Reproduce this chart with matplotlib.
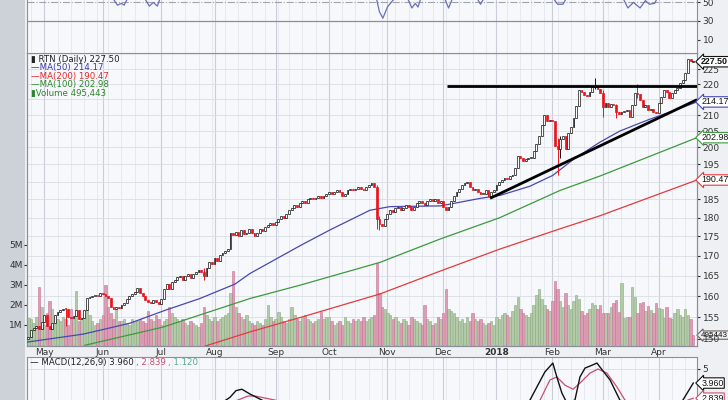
import numpy as np
import pandas as pd
import matplotlib
matplotlib.use("Agg")
from matplotlib import pyplot as plt
from matplotlib.patches import Rectangle

# trading days shown on the chart
holidays = ["2017-05-29", "2017-07-04", "2017-09-04", "2017-11-23", "2017-12-25",
            "2018-01-01", "2018-01-15", "2018-02-19", "2018-03-30"]
days = pd.bdate_range("2017-04-21", "2018-04-19")
days = days[~days.isin(pd.to_datetime(holidays))]

first_open = 150.0
closes = [
    # Apr / May
    150.5, 152.0, 152.6, 153.0, 152.3, 153.8, 155.4, 153.0, 152.2, 153.6,
    155.5, 156.2, 156.6, 157.0, 156.8, 155.0, 154.8, 155.2, 156.7, 154.5,
    154.9, 156.6, 159.5, 159.7, 160.0, 160.1, 159.9, 160.7,
    # Jun
    160.4, 160.0, 159.5, 157.3, 157.0, 157.5, 157.2, 157.8, 158.3, 159.2,
    159.9, 160.4, 161.0, 162.0, 160.7, 160.0, 159.1, 158.6, 158.4, 159.0,
    158.5, 158.0,
    # Jul
    159.2, 161.6, 163.0, 161.8, 163.5, 164.0, 164.6, 164.8, 164.0, 165.0,
    165.3, 164.4, 165.5, 166.0, 166.5, 165.8, 165.0, 167.0, 168.5, 168.0,
    # Aug
    169.4, 168.7, 170.2, 170.7, 171.2, 171.7, 176.0, 175.3, 176.2, 175.0,
    176.8, 175.5, 176.0, 177.0, 176.0, 175.0, 176.0, 177.0, 176.5, 177.5,
    178.0, 178.5, 178.0,
    # Sep
    178.8, 179.5, 180.5, 180.0, 181.0, 182.0, 182.5, 183.5, 183.0, 184.0,
    184.5, 184.0, 185.0, 185.5, 185.0, 185.5, 186.0, 185.5, 186.0, 186.5,
    # Oct
    187.0, 186.5, 187.0, 187.5, 187.0, 186.0, 186.5, 187.5, 188.0, 187.5,
    188.0, 188.5, 188.0, 187.5, 188.5, 189.0, 189.5, 188.5, 179.5, 178.2,
    177.8, 179.5,
    # Nov
    181.0, 182.0, 181.5, 182.5, 183.0, 182.0, 182.5, 183.5, 183.0, 182.0,
    183.0, 184.0, 184.5, 184.0, 183.5, 184.5, 185.0, 184.5, 185.0, 184.0,
    184.5,
    # Dec
    183.0, 182.0, 183.0, 184.5, 186.0, 187.0, 188.0, 189.0, 189.5, 190.0,
    188.5, 187.5, 188.0, 187.0, 186.5, 186.5, 187.5, 186.0, 187.0, 187.5,
    # Jan
    189.0, 190.0, 190.5, 191.0, 190.8, 191.5, 192.0, 194.0, 197.5, 196.9,
    196.0, 196.5, 197.0, 197.0, 199.0, 201.0, 203.5, 207.0, 210.0, 208.0,
    208.5,
    # Feb
    208.0, 200.5, 199.5, 202.5, 203.5, 199.5, 204.5, 206.2, 209.0, 213.0,
    218.0, 217.5, 216.5, 216.0, 217.5, 219.0, 219.5, 218.3, 217.2,
    # Mar
    212.5, 213.8, 212.5, 213.6, 213.2, 210.9, 210.4, 210.8, 211.2, 211.6,
    209.4, 213.2, 217.0, 216.8, 214.8, 212.6, 213.2, 211.5, 212.0, 211.0,
    210.6,
    # Apr
    213.8, 215.7, 218.0, 217.4, 215.4, 217.0, 218.0, 218.7, 220.3, 221.3,
    223.6, 228.4, 227.6, 227.5,
]
# long wicks that stand out (index: low, high)
wicks = {14: (153.0, 157.2), 66: (163.8, 166.8), 131: (177.0, 189.0), 132: (176.8, 180.5),
         199: (191.8, 203.0), 200: (197.0, 203.5), 213: (218.5, 222.0), 216: (209.5, 218.0),
         221: (209.0, 213.5), 229: (215.5, 220.0)}

volumes = [
    1.35, 1.3, 1.1, 1.4, 2.9, 1.9, 1.0, 1.6, 2.2, 1.8, 1.5, 1.3, 1.2, 1.4, 1.3, 1.0,
    1.8, 1.3, 2.7, 1.2, 1.3, 1.4, 2.1, 1.5, 1.2, 1.0, 1.1, 1.3, 1.5, 3.0, 1.9, 1.6,
    1.3, 1.8, 1.2, 1.2, 1.3, 1.1, 1.0, 1.3, 1.2, 1.2, 1.3, 1.2, 1.1, 1.7, 1.3, 1.2,
    1.5, 1.3, 1.0, 1.2, 1.3, 1.9, 1.6, 1.4, 1.3, 1.2, 1.3, 1.1, 1.0, 1.2, 1.1, 1.0,
    0.9, 1.1, 1.9, 1.5, 1.3, 1.2, 1.4, 1.2, 1.3, 1.4, 1.5, 1.6, 2.6, 3.7, 1.9, 1.6,
    1.4, 1.3, 1.5, 1.2, 1.1, 1.0, 1.2, 1.1, 1.0, 1.3, 2.0, 1.4, 1.2, 1.3, 1.65, 1.4,
    1.2, 1.1, 1.3, 1.9, 1.5, 1.3, 1.2, 1.4, 1.5, 1.3, 1.2, 1.1, 1.2, 1.3, 1.65, 1.3,
    1.4, 1.4, 1.2, 1.0, 1.1, 1.2, 1.0, 1.4, 1.2, 1.1, 1.3, 1.2, 1.3, 1.2, 1.4, 1.2,
    1.3, 1.4, 1.5, 4.1, 2.6, 1.9, 1.8, 1.6, 1.5, 1.3, 1.4, 1.2, 1.1, 1.3, 1.2, 1.0,
    1.4, 1.3, 1.2, 1.1, 1.0, 2.0, 1.3, 1.2, 1.0, 1.1, 1.4, 1.3, 1.6, 2.8, 1.8, 1.7,
    1.6, 1.4, 1.2, 1.3, 1.1, 1.4, 1.2, 1.6, 1.3, 1.2, 1.3, 1.1, 1.0, 1.1, 1.2, 1.0,
    1.4, 1.3, 1.5, 1.6, 1.5, 1.4, 1.7, 2.0, 2.4, 1.8, 1.6, 1.5, 1.4, 1.6, 2.0, 2.5,
    2.8, 2.3, 2.0, 1.8, 1.7, 2.2, 3.2, 2.8, 2.2, 1.9, 2.6, 2.0, 1.8, 2.2, 2.5, 2.3,
    1.7, 1.5, 1.6, 1.8, 2.1, 2.0, 1.8, 2.0, 1.6, 1.6, 1.6, 1.9, 2.1, 2.25, 1.65, 3.1,
    1.35, 1.4, 1.4, 2.9, 2.4, 1.6, 2.1, 2.15, 1.7, 1.95, 1.75, 1.6, 2.1, 1.85, 1.8, 1.35,
    1.9, 1.35, 1.3, 1.6, 1.8, 1.5, 1.4, 1.8, 1.5, 1.3, 0.495,
]

# moving averages (day index, value)
ma50_i = [-0.5, 20.6, 27, 38.2, 51.4, 64.5, 77.7, 83.3, 102, 113.4, 128.4, 136, 155, 170,
          177.3, 188.6, 197.2, 205, 214.9, 222.4, 233.7, 243.1, 251.4]
ma50_v = [149.3, 151.1, 152.0, 153.6, 156.6, 159.4, 162.9, 165.5, 172.5, 176.7, 182.0, 183.0,
          183.2, 185.3, 186.1, 188.7, 191.8, 196.5, 201.6, 205.0, 208.7, 211.5, 214.17]
ma100_i = [21.3, 50.6, 83.3, 102, 132.2, 154.8, 177.3, 199.9, 214.9, 251.4]
ma100_v = [148.6, 152.7, 159.4, 162.6, 168.3, 174.3, 180.0, 187.5, 191.6, 202.98]
ma200_i = [66.4, 83.3, 102.1, 132.2, 154.8, 177.3, 199.9, 214.9, 251.4]
ma200_v = [148.4, 151.6, 154.9, 160.5, 166.1, 171.7, 177.0, 180.5, 190.47]

# hand drawn trend lines
resist_i = [157.4, 251.4]
resist_v = [219.5, 219.5]
support_i = [173.6, 251.4]
support_v = [185.3, 214.9]

# RSI (only the dips below ~52 are visible)
rsi_i = [0, 31, 33.5, 35, 36, 38, 43, 45.5, 47, 48.5, 50, 130, 132, 133.3, 135, 137, 139,
         142, 144.2, 145.5, 146.5, 148, 156, 158, 160, 168, 170, 172, 196, 199, 201, 203,
         223, 225.4, 227.5, 230, 232, 233.5, 235.5, 237, 250]
rsi_v = [60, 58, 47, 49, 47, 58, 58, 46, 50, 46, 58, 65, 40, 33, 45, 52, 58,
         58, 44, 49, 45, 58, 58, 44, 58, 58, 48, 58, 60, 48, 48, 58,
         58, 44, 50, 44, 52, 48, 49, 58, 70]

# MACD line and signal
macd_i = [0, 60, 72, 75.8, 78.1, 80.3, 83.3, 87.8, 95, 150, 185, 188.6, 194.2, 197.2, 198.7,
          200.6, 202.5, 205.5, 207.4, 209.3, 211.2, 213.8, 214.9, 218.7, 222.4, 230, 240,
          246.1, 250]
macd_v = [1.5, 1.8, 2.4, 2.9, 3.4, 3.5, 3.15, 2.7, 2.0, 1.2, 2.0, 2.7, 4.78, 5.44, 4.41,
          3.22, 2.48, 2.7, 4.41, 5.07, 5.22, 5.44, 5.15, 4.19, 2.7, 1.4, 1.2, 2.7, 3.96]
signal_i = [0, 70, 78.8, 82.6, 85.2, 92.7, 100, 150, 185, 192.4, 196.1, 198.7, 201.8, 204.8,
            207.4, 211.2, 214.2, 217.5, 221.3, 224.3, 232, 240, 248, 250]
signal_v = [1.4, 2.2, 2.7, 3.0, 3.0, 2.7, 2.3, 1.3, 1.6, 2.7, 4.19, 4.41, 3.8, 3.5,
            3.96, 4.7, 5.0, 4.7, 3.67, 2.7, 2.0, 1.7, 2.7, 2.84]

price_ticks = [150, 155, 160, 165, 170, 175, 180, 185, 190, 195, 200, 205, 210, 215, 220, 225]
hidden_ticks = [190, 215]  # covered by the value tags
vol_ticks = [1, 2, 3, 4, 5]

W, H = 728, 400
L, R = 27, 697
P_LO, P_HI = 148.43, 230.5


def rect(top, bottom):
    return [L / W, 1 - bottom / H, (R - L) / W, (bottom - top) / H]


fig = plt.figure(figsize=(7.28, 4.0), dpi=100, facecolor="#eef0f3")
fig.patches.append(Rectangle((0, 0), 25 / W, 1, transform=fig.transFigure,
                             facecolor="#cdd1d8", edgecolor="none", zorder=-5))

x = np.arange(len(closes))
xmin, xmax = -0.5, 251.4
month_start = [i for i in range(1, len(days)) if days[i].month != days[i - 1].month]
week_start = [i for i in range(1, len(days)) if days[i].weekday() < days[i - 1].weekday()]
grid_c = "#d9dde5"
face_c = "#f7f8fb"
txt_c = "#333333"
tag_font = ["Liberation Sans", "DejaVu Sans"]


def vgrid(a):
    for w in week_start:
        a.axvline(w, color="#e4e7ee", lw=0.6, zorder=0)
    for m in month_start:
        a.axvline(m, color="#c9ced8", lw=0.8, zorder=0)


def frame(a):
    for s in a.spines.values():
        s.set_color("#8a8f99")
        s.set_linewidth(0.8)


# ---- volume (under the price panel)
axv = fig.add_axes(rect(53, 346), facecolor=face_c)
vgrid(axv)
# price grid drawn here so it stays behind the volume bars
for p in price_ticks:
    f = (np.log(p) - np.log(P_LO)) / (np.log(P_HI) - np.log(P_LO))
    axv.plot([0, 1], [f, f], transform=axv.transAxes, color=grid_c, lw=0.6, zorder=0)
vol = np.array(volumes) * 1e6
prev = np.r_[first_open, closes[:-1]]
up = np.array(closes) >= prev
axv.bar(x[up], vol[up], width=0.9, color="#b2caa7", edgecolor="#8aab7f", lw=0.4, zorder=2)
axv.bar(x[~up], vol[~up], width=0.9, color="#dc9db4", edgecolor="#c77392", lw=0.4, zorder=2)
axv.set_xlim(xmin, xmax)
axv.set_ylim(-0.05e6, 14.6e6)
axv.set_yticks([v * 1e6 for v in vol_ticks])
axv.set_yticklabels([f"{v}M" for v in vol_ticks])
axv.tick_params(axis="y", left=True, length=2, pad=1, labelsize=6.5, colors=txt_c)
axv.tick_params(axis="x", bottom=False, labelbottom=False)
frame(axv)

# ---- price
ax = fig.add_axes(rect(53, 346), sharex=axv, facecolor="none")
ax.set_yscale("log")
ax.set_ylim(P_LO, P_HI)
ax.set_yticks(price_ticks)
ax.set_yticklabels(["" if p in hidden_ticks else str(p) for p in price_ticks])
ax.yaxis.set_minor_locator(matplotlib.ticker.NullLocator())
ax.yaxis.tick_right()
ax.tick_params(axis="y", length=2, pad=2, labelsize=6.5, colors=txt_c)

ax.plot(ma200_i, ma200_v, color="#e33b3b", lw=0.9, zorder=3)
ax.plot(ma100_i, ma100_v, color="#3c9a3c", lw=0.9, zorder=3)
ax.plot(ma50_i, ma50_v, color="#4848b0", lw=0.9, zorder=3)

for i, c in enumerate(closes):
    o = prev[i]
    lo, hi = wicks.get(i, (min(o, c), max(o, c)))
    col = "#111111" if c >= o else "#e8141c"
    ax.vlines(i, lo, hi, color=col, lw=0.7, zorder=4)
    body = max(abs(c - o), 0.25)
    fc = "white" if c >= o else col
    if i == len(closes) - 1:
        fc, col = "#f5e634", "#111111"
    ax.add_patch(Rectangle((i - 0.34, min(o, c)), 0.68, body, facecolor=fc,
                           edgecolor=col, lw=0.5, zorder=5))

ax.plot(resist_i, resist_v, color="black", lw=2.0, zorder=6, solid_capstyle="butt")
ax.plot(support_i, support_v, color="black", lw=2.0, zorder=6, solid_capstyle="butt")

ax.set_xticks(month_start)
labels = []
for m in month_start:
    labels.append(str(days[m].year) if days[m].month == 1 else days[m].strftime("%b"))
ax.set_xticklabels(labels)
ax.tick_params(axis="x", length=0, pad=1.5, labelsize=6.5, colors=txt_c)
for t in ax.get_xticklabels():
    if t.get_text() == "2018":
        t.set_fontweight("bold")
frame(ax)


def tag(a, y, text, ec, fc="white", bold=False, size=6.4):
    a.annotate(text, xy=(1.0, y), xycoords=("axes fraction", "data"),
               xytext=(3.0, 0), textcoords="offset points", va="center", ha="left",
               fontsize=size, family=tag_font, fontweight="bold" if bold else "normal",
               color="#111111", zorder=10, annotation_clip=False,
               bbox=dict(boxstyle="larrow,pad=0.08", fc=fc, ec=ec, lw=0.8))


tag(ax, 227.5, "227.50", "#111111", bold=True)
tag(ax, 214.17, "214.17", "#4848b0")
tag(ax, 202.98, "202.98", "#3c9a3c")
tag(ax, 190.47, "190.47", "#e33b3b")
tag(axv, 0.495e6, "495443", "#666666", fc="#eeeeee", size=5.8)

legend_rows = [("\u25ae RTN (Daily) 227.50", "#222222"),
               ("\u2014MA(50) 214.17", "#3a3aa8"),
               ("\u2014MA(200) 190.47", "#e0282a"),
               ("\u2014MA(100) 202.98", "#2b872b"),
               ("\u25aeVolume 495,443", "#2b872b")]
for k, (txt, col) in enumerate(legend_rows):
    fig.text(31 / W, 1 - (59 + 8.6 * k) / H, txt, color=col, fontsize=6.2,
             va="center", ha="left")

# ---- RSI panel (mostly cut off at the top)
axr = fig.add_axes(rect(-60, 53), sharex=axv, facecolor=face_c)
vgrid(axr)
axr.set_ylim(30 - 32 / 0.93, 30 + 81 / 0.93)
axr.axhline(50, color="#a0a4ac", lw=0.8, ls="-.", zorder=1)
axr.axhline(30, color="#8a8f99", lw=0.9, zorder=1)
axr.plot(rsi_i, rsi_v, color="#6a70b4", lw=0.9, zorder=3)
axr.set_yticks([10, 30, 50])
axr.yaxis.tick_right()
axr.tick_params(axis="y", length=2, pad=2, labelsize=6.5, colors=txt_c)
axr.tick_params(axis="x", bottom=False, labelbottom=False)
frame(axr)

# ---- MACD panel (cut off at the bottom)
axm = fig.add_axes(rect(357, 460), sharex=axv, facecolor=face_c)
vgrid(axm)
axm.set_ylim(5 - 91 / 13.5, 5 + 12 / 13.5)
axm.axhline(5, color=grid_c, lw=0.6, zorder=0)
axm.axhline(2.5, color=grid_c, lw=0.6, zorder=0)
axm.plot(signal_i, signal_v, color="#c8506e", lw=0.9, zorder=3)
axm.plot(macd_i, macd_v, color="#111111", lw=1.0, zorder=4)
axm.set_yticks([5])
axm.yaxis.tick_right()
axm.tick_params(axis="y", length=2, pad=2, labelsize=6.5, colors=txt_c)
axm.tick_params(axis="x", bottom=False, labelbottom=False)
frame(axm)
tag(axm, 3.96, "3.960", "#111111")
tag(axm, 2.839, "2.839", "#c8506e")

fig.text(30 / W, 1 - 363 / H, "\u2014 MACD(12,26,9) 3.960", color="#222222", fontsize=6.2, va="center")
fig.text(136 / W, 1 - 363 / H, ", 2.839", color="#c8506e", fontsize=6.2, va="center")
fig.text(168 / W, 1 - 363 / H, ", 1.120", color="#5aa890", fontsize=6.2, va="center")

fig.savefig("out.png", dpi=100, facecolor=fig.get_facecolor())
